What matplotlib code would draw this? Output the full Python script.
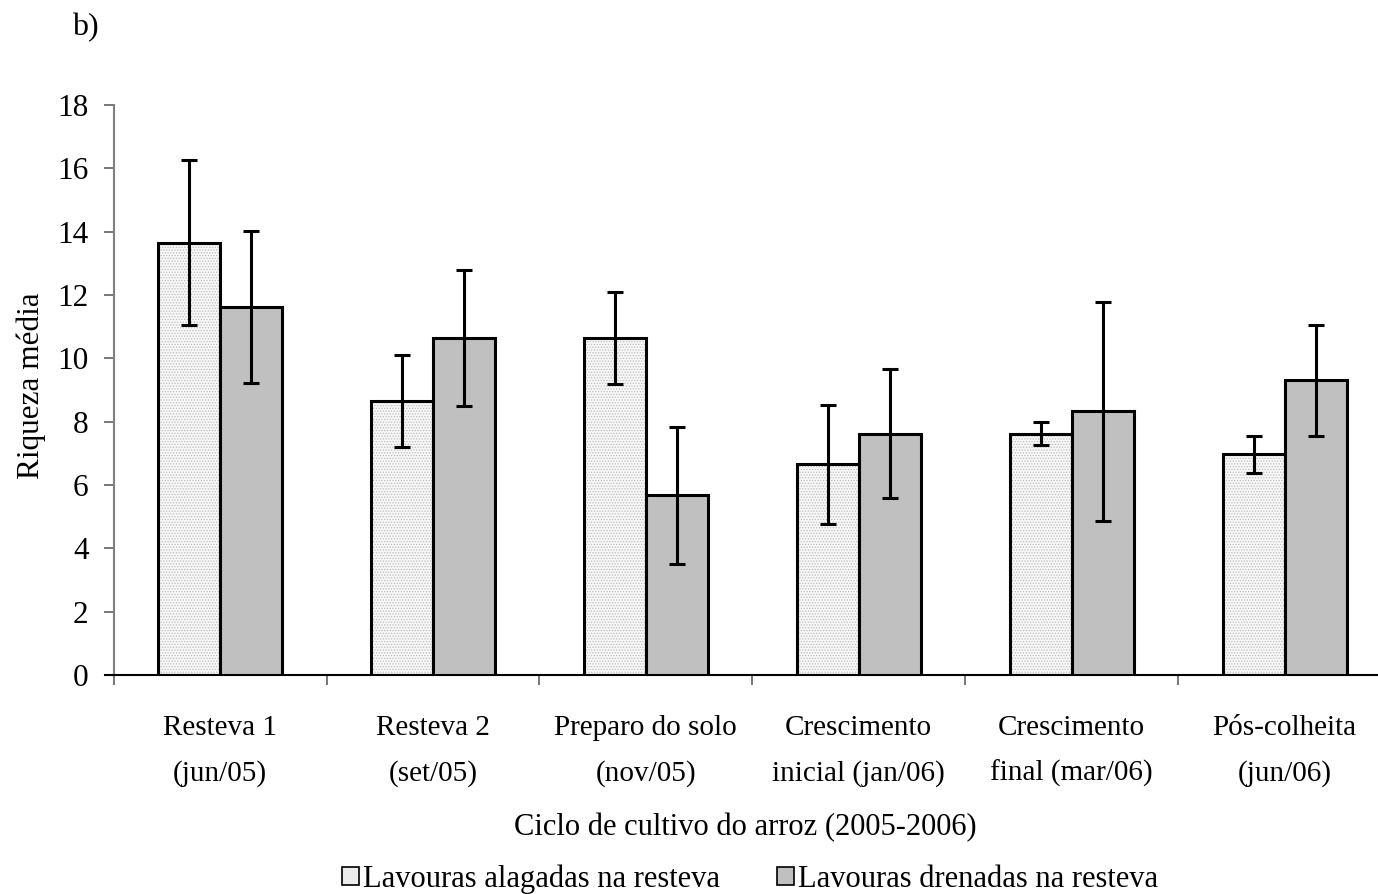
import matplotlib
matplotlib.use("Agg")
import matplotlib.pyplot as plt
import numpy as np
from matplotlib.patches import Patch

categories = ["Resteva 1\n(jun/05)", "Resteva 2\n(set/05)", "Preparo do solo\n(nov/05)",
              "Crescimento\ninicial (jan/06)", "Crescimento\nfinal (mar/06)", "Pós-colheita\n(jun/06)"]
alagadas = [13.65, 8.65, 10.65, 6.65, 7.62, 6.97]
alagadas_err = [2.6, 1.45, 1.45, 1.87, 0.36, 0.58]
drenadas = [11.62, 10.65, 5.67, 7.62, 8.33, 9.31]
drenadas_err = [2.4, 2.15, 2.15, 2.03, 3.46, 1.75]
series_names = ["Lavouras alagadas na resteva", "Lavouras drenadas na resteva"]

plt.rcParams['font.family'] = ['Liberation Serif', 'DejaVu Serif']
plt.rcParams['hatch.linewidth'] = 0.6

fig = plt.figure(figsize=(13.78, 8.94), dpi=100)
ax = fig.add_axes([113.6/1378, (894-675)/894, (1391-113.6)/1378, 570/894])

x = np.arange(len(categories))
w = 0.291
# light bars: hatched texture then outline
plt.rcParams['hatch.color'] = '#bdbdbd'
ax.bar(x - w/2, alagadas, w, color='#f7f7f7', hatch='......', edgecolor='#bdbdbd', linewidth=0, zorder=2)
ax.bar(x - w/2, alagadas, w, facecolor='none', edgecolor='black', linewidth=2.2, zorder=3)
ax.bar(x + w/2, drenadas, w, color='#c0c0c0', edgecolor='black', linewidth=2.2, zorder=3)
ax.errorbar(x - w/2, alagadas, yerr=alagadas_err, fmt='none', ecolor='black', elinewidth=2.2,
            capsize=5.5, capthick=2.2, zorder=4)
ax.errorbar(x + w/2, drenadas, yerr=drenadas_err, fmt='none', ecolor='black', elinewidth=2.2,
            capsize=5.5, capthick=2.2, zorder=4)

ax.set_xlim(-0.5, len(categories) - 0.5)
ax.set_ylim(0, 18)
ax.set_yticks(np.arange(0, 19, 2))
ax.set_yticklabels([str(v) for v in range(0, 19, 2)], fontsize=22.5)
ax.set_xticks(np.arange(-0.5, len(categories), 1.0))
ax.set_xticklabels([])
ax.set_xticks(x, minor=True)
ax.set_xticklabels(categories, minor=True, fontsize=21, linespacing=1.9)
ax.tick_params(axis='x', which='minor', length=0, pad=29)
ax.tick_params(axis='x', which='major', length=7.5, width=1.2, color='#606060', direction='out')
ax.tick_params(axis='y', length=7.5, width=1.2, color='#606060', direction='out', pad=10.5)

for s in ['top', 'right']:
    ax.spines[s].set_visible(False)
ax.spines['left'].set_color('#808080')
ax.spines['left'].set_linewidth(1.5)
ax.spines['bottom'].set_color('black')
ax.spines['bottom'].set_linewidth(1.5)
ax.spines['bottom'].set_bounds(-0.54, len(categories) - 0.5)

fig.text(31/1378, 1 - 386/894, "Riqueza média", fontsize=22.5, rotation=90,
         ha='center', va='center')
fig.text(745/1378, 1 - 828/894, "Ciclo de cultivo do arroz (2005-2006)", fontsize=22,
         ha='center', va='center')
fig.text(72/1378, 1 - 28/894, "b)", fontsize=23, ha='left', va='center')

handles = [Patch(facecolor='#ececec', edgecolor='black', linewidth=1.2, label=series_names[0]),
           Patch(facecolor='#c0c0c0', edgecolor='black', linewidth=1.2, label=series_names[1])]
fig.legend(handles=handles, loc='center', bbox_to_anchor=(750/1378, 1 - 879/894), ncol=2,
           frameon=False, fontsize=22, handlelength=0.55, handleheight=0.55,
           handletextpad=0.15, columnspacing=1.85, borderpad=0)

fig.savefig("out.png", dpi=100)
